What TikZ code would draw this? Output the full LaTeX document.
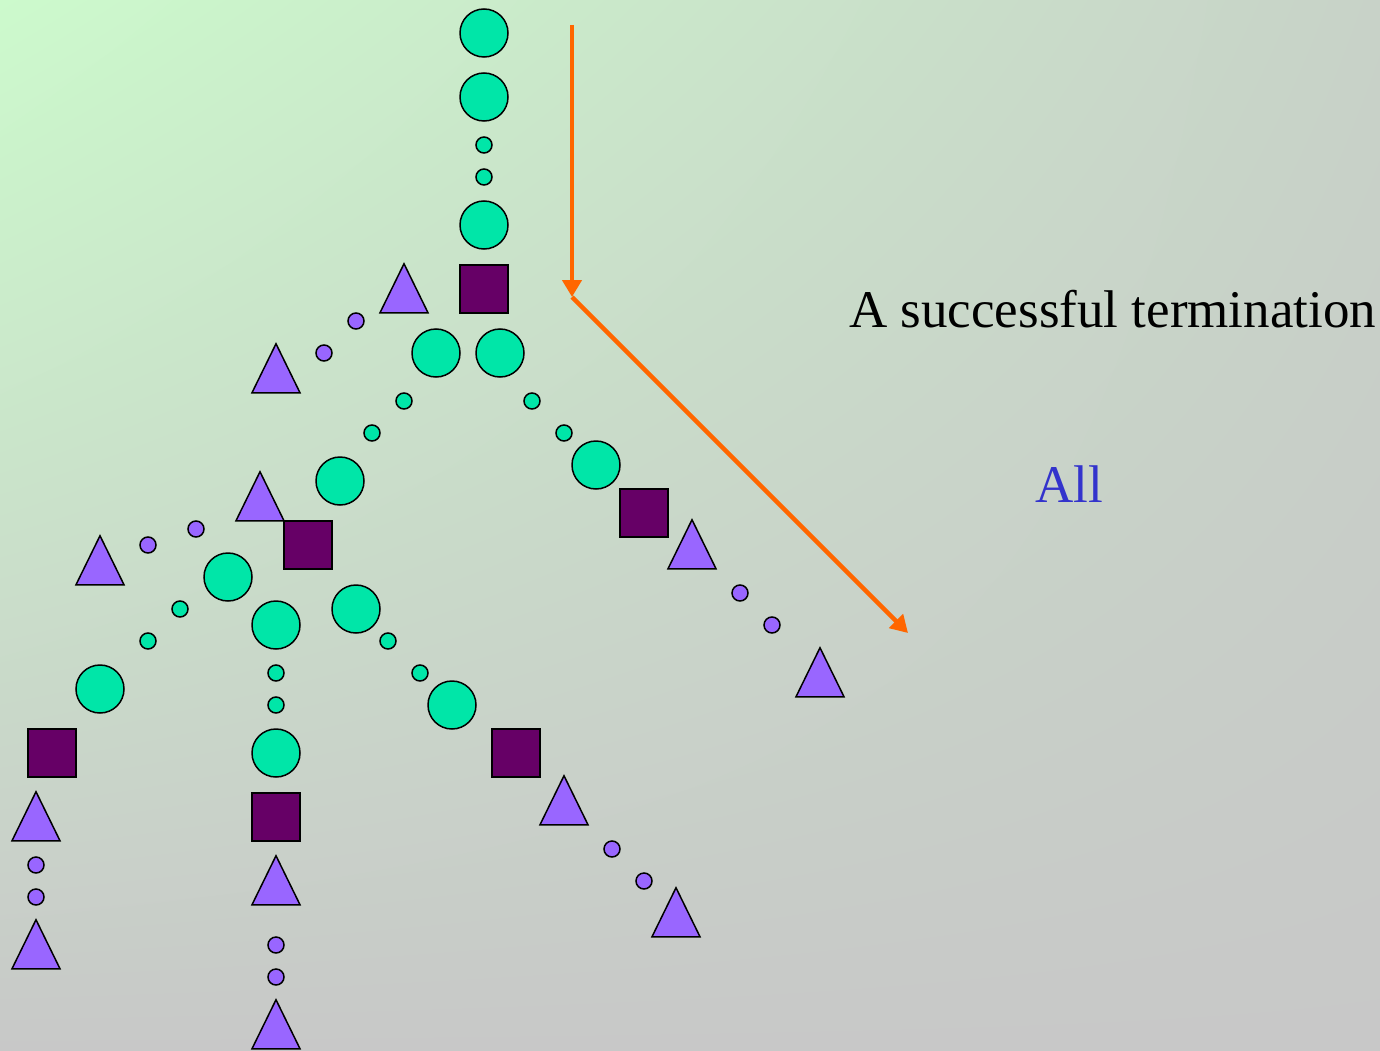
\documentclass[tikz,border=0pt]{standalone}
\usepackage{fontspec}
\setmainfont{Liberation Serif}
\usepackage{tikz}
\usetikzlibrary{arrows.meta,shapes.geometric,shadings}
\definecolor{mint}{RGB}{0,230,168}
\definecolor{plum}{RGB}{102,0,102}
\definecolor{lilac}{RGB}{153,102,255}
\definecolor{tangerine}{RGB}{255,102,0}
\definecolor{textblue}{RGB}{51,51,204}
\definecolor{bgtl}{RGB}{204,250,204}
\definecolor{bgtr}{RGB}{200,210,200}
\definecolor{bgbot}{RGB}{200,200,200}
\tikzset{
    every node/.style={font=\fontsize{53}{60}\selectfont},
    big node/.style={circle,draw,line width=1.5pt,fill=mint,inner sep=0pt,minimum size=48pt},
    small node/.style={circle,draw,line width=1.5pt,fill=mint,inner sep=0pt,minimum size=16pt},
    dot node/.style={circle,draw,line width=1.5pt,fill=lilac,inner sep=0pt,minimum size=16pt},
    box node/.style={rectangle,draw,line width=1.5pt,fill=plum,inner sep=0pt,minimum size=48pt},
    tri node/.style={isosceles triangle,isosceles triangle stretches,shape border rotate=90,
        draw,line width=1.5pt,fill=lilac,inner sep=0pt,minimum width=48pt,minimum height=49pt,
        anchor=lower side,yshift=-24.5pt}
}
\begin{document}
\begin{tikzpicture}[x=1pt,y=-1pt,>={Triangle[length=17pt,width=19pt]}]

    \shade[upper left=bgtl,upper right=bgtr,lower left=bgbot,lower right=bgbot]
        (0,0) rectangle (1380,1051);
    \useasboundingbox (0,0) rectangle (1380,1051);

    % main stem
    \node[big node] (c1) at (484,33) {};
    \node[big node] (c2) at (484,97) {};
    \node[small node] (d1) at (484,145) {};
    \node[small node] (d2) at (484,177) {};
    \node[big node] (c3) at (484,225) {};
    \node[box node] (s1) at (484,289) {};

    \node[tri node] (t1) at (404,289) {};
    \node[dot node] (p1) at (356,321) {};
    \node[dot node] (p2) at (324,353) {};
    \node[tri node] (t2) at (276,369) {};

    \node[big node] (c4) at (436,353) {};
    \node[big node] (c5) at (500,353) {};

    % right branch
    \node[small node] (d5) at (532,401) {};
    \node[small node] (d6) at (564,433) {};
    \node[big node] (c7) at (596,465) {};
    \node[box node] (s2) at (644,513) {};
    \node[tri node] (t3) at (692,545) {};
    \node[dot node] (p3) at (740,593) {};
    \node[dot node] (p4) at (772,625) {};
    \node[tri node] (t4) at (820,673) {};

    % left branch
    \node[small node] (d3) at (404,401) {};
    \node[small node] (d4) at (372,433) {};
    \node[big node] (c6) at (340,481) {};
    \node[box node] (s3) at (308,545) {};

    \node[tri node] (t5) at (260,497) {};
    \node[dot node] (p5) at (196,529) {};
    \node[dot node] (p6) at (148,545) {};
    \node[tri node] (t6) at (100,561) {};

    \node[big node] (c8) at (228,577) {};
    \node[big node] (c9) at (276,625) {};
    \node[big node] (c10) at (356,609) {};

    \node[small node] (d7) at (180,609) {};
    \node[small node] (d8) at (148,641) {};
    \node[big node] (c11) at (100,689) {};
    \node[box node] (s4) at (52,753) {};
    \node[tri node] (t7) at (36,817) {};
    \node[dot node] (p7) at (36,865) {};
    \node[dot node] (p8) at (36,897) {};
    \node[tri node] (t8) at (36,945) {};

    \node[small node] (d9) at (276,673) {};
    \node[small node] (d10) at (276,705) {};
    \node[big node] (c12) at (276,753) {};
    \node[box node] (s5) at (276,817) {};
    \node[tri node] (t9) at (276,881) {};
    \node[dot node] (p9) at (276,945) {};
    \node[dot node] (p10) at (276,977) {};
    \node[tri node] (t10) at (276,1025) {};

    \node[small node] (d11) at (388,641) {};
    \node[small node] (d12) at (420,673) {};
    \node[big node] (c13) at (452,705) {};
    \node[box node] (s6) at (516,753) {};
    \node[tri node] (t11) at (564,801) {};
    \node[dot node] (p11) at (612,849) {};
    \node[dot node] (p12) at (644,881) {};
    \node[tri node] (t12) at (676,913) {};

    % arrows
    \coordinate (top) at (572,25);
    \coordinate (bend) at (572,297);
    \coordinate (end) at (908,633);
    \draw[->,tangerine,line width=4.5pt] (top) -- (bend);
    \draw[->,tangerine,line width=4.5pt] (bend) -- (end);

    \node[anchor=base west,inner sep=0pt] (term) at (849,327) {A successful termination};
    \node[anchor=base west,inner sep=0pt,text=textblue] (all) at (1035,502) {All};

\end{tikzpicture}
\end{document}
